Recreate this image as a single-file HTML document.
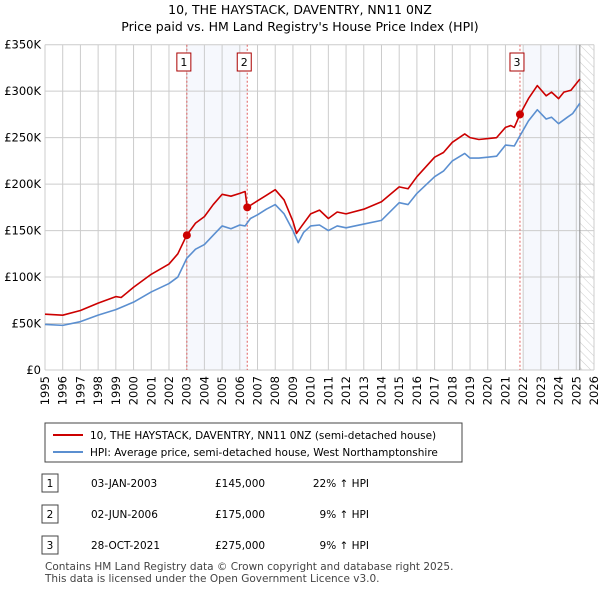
<!DOCTYPE html>
<html><head><meta charset="utf-8"><style>
body{margin:0;background:#fff;font-family:"Liberation Sans","DejaVu Sans",sans-serif}
svg text{font-family:"DejaVu Sans","Liberation Sans",sans-serif}
</style></head><body>
<svg width="600" height="590" xmlns="http://www.w3.org/2000/svg" id="svg">
<defs><pattern id="hatch" width="6" height="6" patternUnits="userSpaceOnUse" patternTransform="rotate(-45)"><line x1="0" y1="0" x2="0" y2="6" stroke="#ccc" stroke-width="1"/></pattern></defs>
<text x="300" y="14" text-anchor="middle" font-size="12.5">10, THE HAYSTACK, DAVENTRY, NN11 0NZ</text>
<text x="300" y="31" text-anchor="middle" font-size="12.5">Price paid vs. HM Land Registry's House Price Index (HPI)</text>
<g id="plot"></g>
<g>
<rect x="45" y="423" width="417" height="39" fill="#fff" stroke="#444"/>
<line x1="53" y1="435" x2="83" y2="435" stroke="#cc0000" stroke-width="2"/>
<text x="90" y="439" font-size="10.5">10, THE HAYSTACK, DAVENTRY, NN11 0NZ (semi-detached house)</text>
<line x1="53" y1="452" x2="83" y2="452" stroke="#5b8fd0" stroke-width="2"/>
<text x="90" y="456" font-size="10.5">HPI: Average price, semi-detached house, West Northamptonshire</text>
</g>
<g id="table" font-size="10.5"></g>
<text x="45" y="570" font-size="10.5" fill="#444">Contains HM Land Registry data © Crown copyright and database right 2025.</text>
<text x="45" y="582" font-size="10.5" fill="#444">This data is licensed under the Open Government Licence v3.0.</text>
</svg>
<script>
const redX=[1995,1996,1997,1998,1999,1999.3,2000,2001,2002,2002.5,2003,2003.5,2004,2004.5,2005,2005.5,2006,2006.3,2006.42,2007,2007.5,2008,2008.5,2009,2009.2,2009.5,2010,2010.5,2011,2011.5,2012,2013,2014,2015,2015.5,2016,2017,2017.5,2018,2018.7,2019,2019.5,2020,2020.5,2021,2021.3,2021.5,2021.82,2022.3,2022.8,2023.3,2023.6,2024,2024.3,2024.7,2025.2];
const redY=[60,59,64,72,79,78,89,103,114,125,145,158,165,178,189,187,190,192,175,182,188,194,183,160,147,155,168,172,163,170,168,173,181,197,195,208,229,234,245,254,250,248,249,250,261,263,261,275,292,306,295,299,292,299,301,313];
const blueX=[1995,1996,1997,1998,1999,2000,2001,2002,2002.5,2003,2003.5,2004,2004.5,2005,2005.5,2006,2006.3,2006.6,2007,2007.5,2008,2008.5,2009,2009.3,2009.6,2010,2010.5,2011,2011.5,2012,2013,2014,2015,2015.5,2016,2017,2017.5,2018,2018.7,2019,2019.5,2020,2020.5,2021,2021.5,2021.82,2022.3,2022.8,2023.3,2023.6,2024,2024.5,2024.8,2025.2];
const blueY=[49,48,52,59,65,73,84,93,100,120,130,135,145,155,152,156,155,163,167,173,178,168,150,137,148,155,156,150,155,153,157,161,180,178,190,208,214,225,233,228,228,229,230,242,241,252,268,280,270,272,265,272,276,287];
const saleX=[2003.01,2006.42,2021.82];
const saleY=[145,175,275];
const saleLabels=["1","2","3"];
const yTicks=[0,50,100,150,200,250,300,350];
const yTickLabels=["£0","£50K","£100K","£150K","£200K","£250K","£300K","£350K"];
const years=[1995,1996,1997,1998,1999,2000,2001,2002,2003,2004,2005,2006,2007,2008,2009,2010,2011,2012,2013,2014,2015,2016,2017,2018,2019,2020,2021,2022,2023,2024,2025,2026];
const tDates=["03-JAN-2003","02-JUN-2006","28-OCT-2021"];
const tPrices=["£145,000","£175,000","£275,000"];
const tHpi=["22% ↑ HPI","9% ↑ HPI","9% ↑ HPI"];
const NS="http://www.w3.org/2000/svg";
const X0=45,X1=594,Y0=370,Y1=44.7;
const xs=v=>X0+(v-1995)/(2026-1995)*(X1-X0);
const ys=v=>Y0-v/350*(Y0-Y1);
const plot=document.getElementById('plot');
function mk(tag,at,par){const e=document.createElementNS(NS,tag);for(const k in at)e.setAttribute(k,at[k]);(par||plot).appendChild(e);return e;}
let e;
e=mk('rect',{x:xs(2003.01),y:Y1,width:xs(2006.42)-xs(2003.01),height:Y0-Y1,fill:'#eef3fc',opacity:0.55});


e=mk('rect',{x:xs(2022),y:Y1,width:xs(2025.2)-xs(2022),height:Y0-Y1,fill:'#eef3fc',opacity:0.55});


e=mk('rect',{x:xs(2025.2),y:Y1,width:X1-xs(2025.2),height:Y0-Y1,fill:'url(#hatch)'});


years.forEach(y=>{e=mk('line',{x1:xs(y),x2:xs(y),y1:Y1,y2:Y0,stroke:'#ccc','stroke-width':1});


e=mk('text',{x:0,y:0,'font-size':11.5,'text-anchor':'end',transform:`translate(${xs(y)+4},${Y0+6}) rotate(-90)`});
e.textContent=y;

});
yTicks.forEach((v,i)=>{e=mk('line',{x1:X0,x2:X1,y1:ys(v),y2:ys(v),stroke:'#ccc','stroke-width':1});


e=mk('text',{x:X0-4,y:ys(v)+4,'font-size':11.5,'text-anchor':'end'});
e.textContent=yTickLabels[i];

});
e=mk('line',{x1:xs(2025.2),x2:xs(2025.2),y1:Y1,y2:Y0,stroke:'#888','stroke-width':1});


saleX.forEach((sx,i)=>{e=mk('line',{x1:xs(sx),x2:xs(sx),y1:Y1,y2:Y0,stroke:'#e06060','stroke-width':1,'stroke-dasharray':'2,2'});


e=mk('rect',{x:xs(sx)-10,y:53,width:14,height:18,fill:'#fff',stroke:'#aa0000'});


e=mk('text',{x:xs(sx)-3,y:66,'font-size':11,'text-anchor':'middle'});
e.textContent=saleLabels[i];

});
function line(xa,ya,col,name){e=mk('polyline',{points:xa.map((x,i)=>xs(x)+','+ys(ya[i])).join(' '),fill:'none',stroke:col,'stroke-width':1.6,'stroke-linejoin':'round'});

}
line(blueX,blueY,'#5b8fd0','hpi-line');
line(redX,redY,'#cc0000','price-paid-line');
saleX.forEach((sx,i)=>{e=mk('circle',{cx:xs(sx),cy:ys(saleY[i]),r:4,fill:'#cc0000'});

});
const tb=document.getElementById('table');
[483,514,545].forEach((y,i)=>{e=mk('rect',{x:42,y:y-9,width:16,height:18,fill:'#fff',stroke:'#444'},tb);


e=mk('text',{x:50,y:y+4,'text-anchor':'middle'},tb);e.textContent=saleLabels[i];


e=mk('text',{x:91,y:y+4},tb);e.textContent=tDates[i];


e=mk('text',{x:215,y:y+4},tb);e.textContent=tPrices[i];


e=mk('text',{x:369,y:y+4,'text-anchor':'end'},tb);e.textContent=tHpi[i];

});
</script>
</body></html>
